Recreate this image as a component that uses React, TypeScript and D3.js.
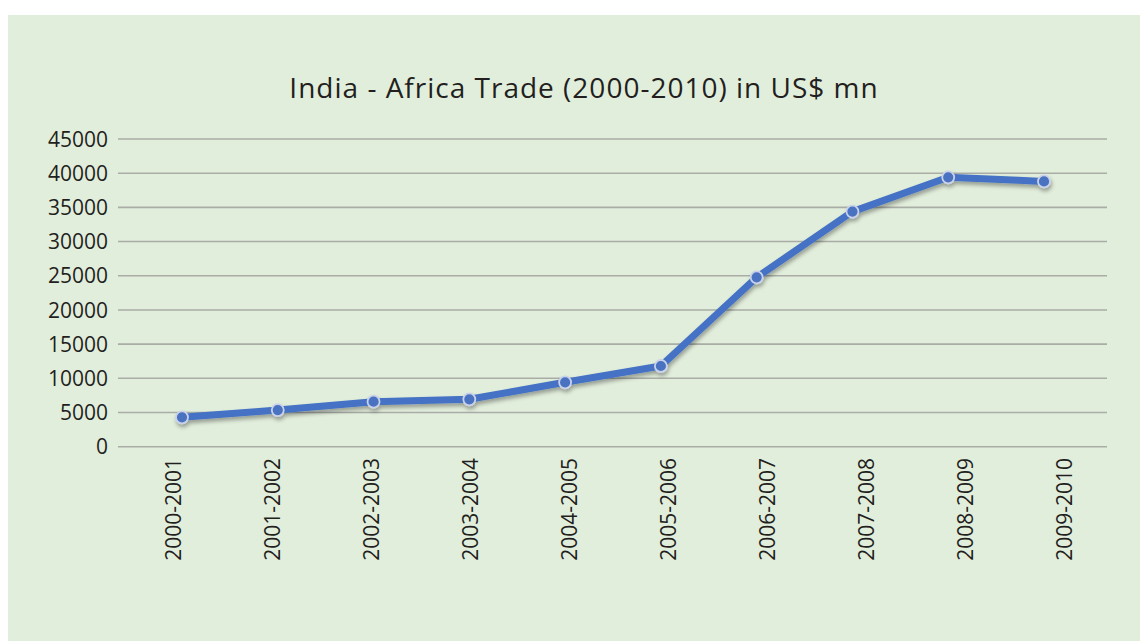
import React from "react";
import * as d3 from "d3";

const categories = ["2000-2001","2001-2002","2002-2003","2003-2004","2004-2005","2005-2006","2006-2007","2007-2008","2008-2009","2009-2010"];
const tradeValues = [4300, 5360, 6580, 6930, 9420, 11800, 24770, 34380, 39400, 38800];
const yTicks = [0, 5000, 10000, 15000, 20000, 25000, 30000, 35000, 40000, 45000];
const title = "India - Africa Trade (2000-2010) in US$ mn";

const W = 1140, H = 641;

export default function App() {
  const y = d3.scaleLinear().domain([0, 45000]).range([446.7, 139]);
  const band = d3.scaleBand<string>().domain(categories).range([118, 1107]);
  const px = d3.scalePoint<string>().domain(categories).range([182, 1044]);
  const line = d3.line<number>().x((_, i) => px(categories[i])!).y(d => y(d));
  const path = line(tradeValues) || "";
  const font = "'Open Sans', 'DejaVu Sans', sans-serif";
  return (
    <svg width={W} height={H} style={{ position: "absolute", left: 0, top: 0 }}>
      <defs>
        <filter id="shadow" x="-10%" y="-10%" width="120%" height="130%">
          <feGaussianBlur in="SourceAlpha" stdDeviation="2.2" />
          <feOffset dx="1" dy="3" result="b" />
          <feComponentTransfer><feFuncA type="linear" slope="0.35" /></feComponentTransfer>
          <feMerge><feMergeNode /><feMergeNode in="SourceGraphic" /></feMerge>
        </filter>
      </defs>
      <rect x={0} y={0} width={W} height={H} fill="#ffffff" />
      <rect x={8} y={15} width={W - 8} height={H - 15} fill="#e2eedc" />
      <text x={584} y={98} textAnchor="middle" fontFamily={font} fontSize={28} letterSpacing={1} fill="#231f20" fontWeight={500}>{title}</text>
      {yTicks.map(t => (
        <g key={t}>
          <line x1={118} x2={1107} y1={y(t)} y2={y(t)} stroke="#a9ada6" strokeWidth={1.6} />
          <text x={108} y={y(t)} dy="0.36em" textAnchor="end" fontFamily={font} fontSize={21} fill="#231f20">{t}</text>
        </g>
      ))}
      {categories.map(c => {
        const cx = band(c)! + band.bandwidth() / 2 + 14;
        return (
          <text key={c} transform={`translate(${cx},458) rotate(-90)`} textAnchor="end" fontFamily={font} fontSize={21} fill="#231f20">{c}</text>
        );
      })}
      <g filter="url(#shadow)">
        <path d={path} fill="none" stroke="#4472c4" strokeWidth={7} strokeLinejoin="round" strokeLinecap="round" />
        {tradeValues.map((v, i) => (
          <circle key={i} cx={px(categories[i])!} cy={y(v)} r={6} fill="#4a72c0" stroke="#c9d2ea" strokeWidth={1.8} />
        ))}
      </g>
    </svg>
  );
}
